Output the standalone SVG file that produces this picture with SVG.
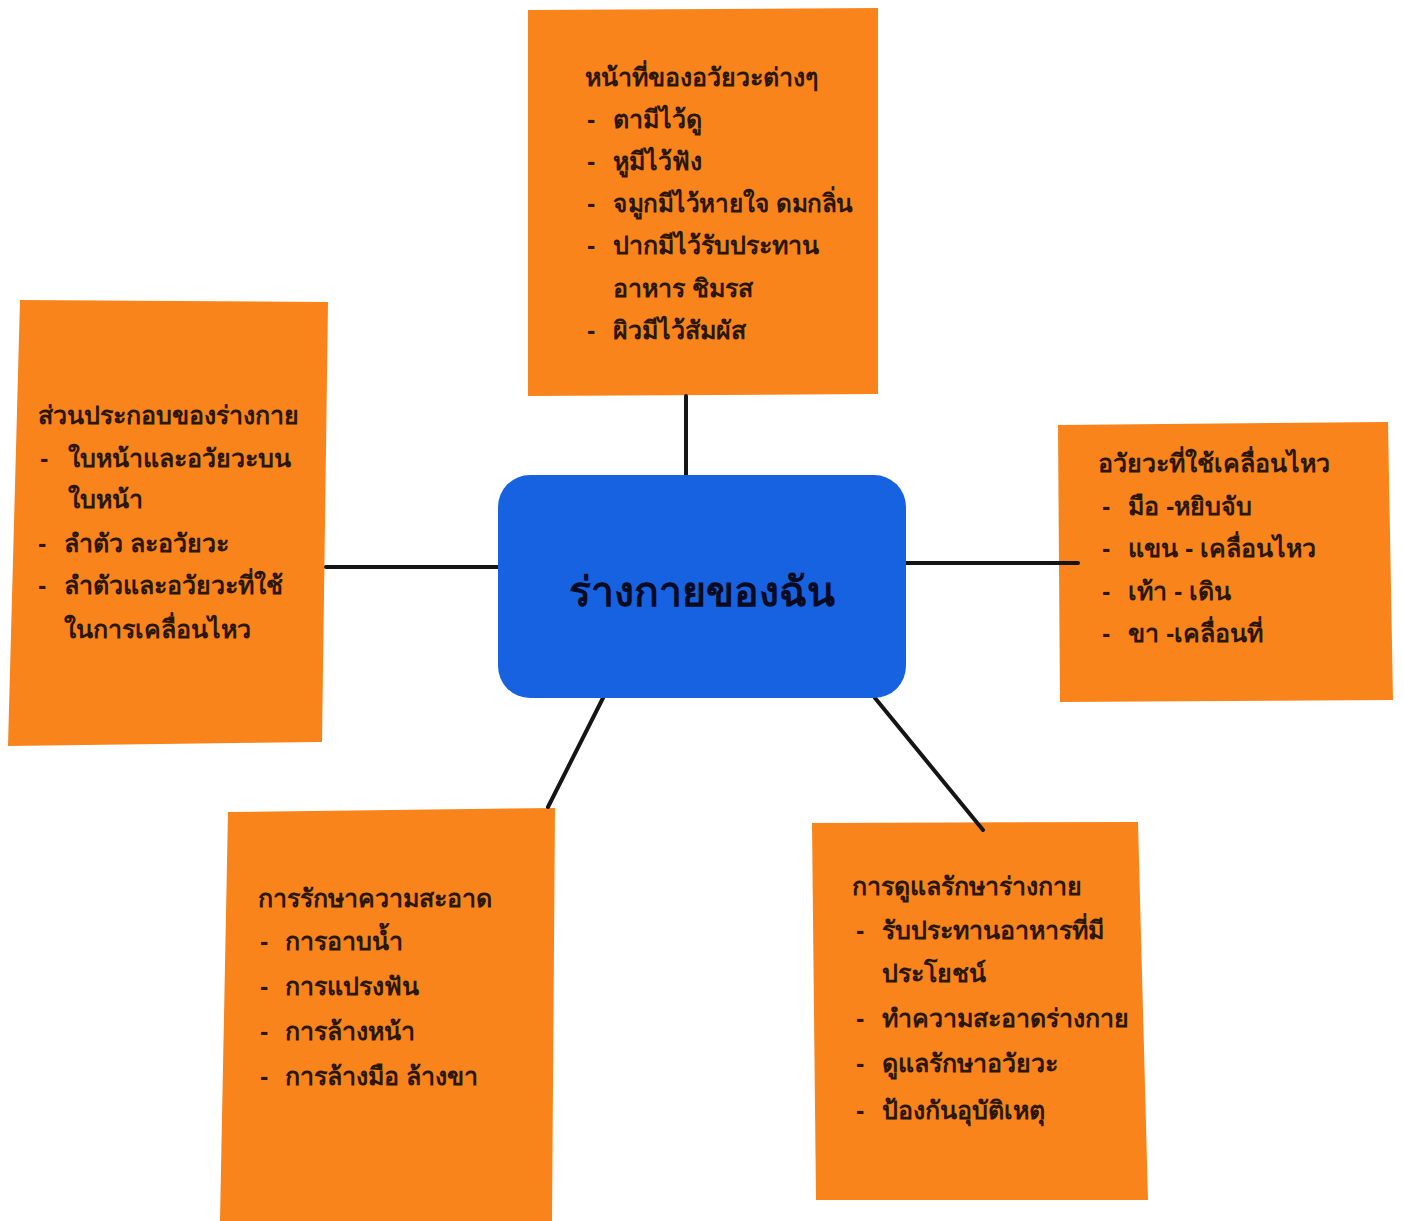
<svg xmlns="http://www.w3.org/2000/svg" width="1403" height="1221" viewBox="0 0 1403 1221">
<style>
.box{fill:#f8841b;}
.hub{fill:#1662e0;}
.t{font-family:"Liberation Sans","Noto Sans",sans-serif;font-size:25px;font-weight:bold;fill:#2a1708;}
.h{font-family:"Liberation Sans","Noto Sans",sans-serif;font-size:41px;font-weight:bold;fill:#0a0a20;}
.c{stroke:#151515;stroke-width:4;fill:none;stroke-linecap:round;}
</style>
<rect width="1403" height="1221" fill="#ffffff"/>
<g id="top">
<polygon class="box" points="528,10 878,8 878,394 528,396"/>
<text class="t" x="585" y="86">หน้าที่ของอวัยวะต่างๆ</text>
<text class="t" x="587" y="128">-</text><text class="t" x="613" y="128">ตามีไว้ดู</text>
<text class="t" x="587" y="170">-</text><text class="t" x="613" y="170">หูมีไว้ฟัง</text>
<text class="t" x="587" y="212">-</text><text class="t" x="613" y="212" textLength="240" lengthAdjust="spacingAndGlyphs">จมูกมีไว้หายใจ ดมกลิ่น</text>
<text class="t" x="587" y="254">-</text><text class="t" x="613" y="254">ปากมีไว้รับประทาน</text>
<text class="t" x="613" y="297">อาหาร ชิมรส</text>
<text class="t" x="587" y="339">-</text><text class="t" x="613" y="339">ผิวมีไว้สัมผัส</text>
</g>
<g id="left">
<polygon class="box" points="20,300 328,302 322,742 8,746"/>
<text class="t" x="38" y="424">ส่วนประกอบของร่างกาย</text>
<text class="t" x="40" y="467">-</text><text class="t" x="68" y="467">ใบหน้าและอวัยวะบน</text>
<text class="t" x="68" y="508">ใบหน้า</text>
<text class="t" x="38" y="552">-</text><text class="t" x="64" y="552">ลำตัว ละอวัยวะ</text>
<text class="t" x="38" y="594">-</text><text class="t" x="64" y="594">ลำตัวและอวัยวะที่ใช้</text>
<text class="t" x="64" y="638">ในการเคลื่อนไหว</text>
</g>
<g id="right">
<polygon class="box" points="1058,425 1388,422 1393,700 1060,702"/>
<text class="t" x="1098" y="472">อวัยวะที่ใช้เคลื่อนไหว</text>
<text class="t" x="1102" y="515">-</text><text class="t" x="1128" y="515">มือ -หยิบจับ</text>
<text class="t" x="1102" y="557">-</text><text class="t" x="1128" y="557">แขน - เคลื่อนไหว</text>
<text class="t" x="1102" y="600">-</text><text class="t" x="1128" y="600">เท้า - เดิน</text>
<text class="t" x="1102" y="642">-</text><text class="t" x="1128" y="642">ขา -เคลื่อนที่</text>
</g>
<g id="bottom-left">
<polygon class="box" points="228,812 555,808 552,1221 220,1221"/>
<text class="t" x="258" y="907">การรักษาความสะอาด</text>
<text class="t" x="260" y="950">-</text><text class="t" x="285" y="950">การอาบน้ำ</text>
<text class="t" x="260" y="995">-</text><text class="t" x="285" y="995">การแปรงฟัน</text>
<text class="t" x="260" y="1040">-</text><text class="t" x="285" y="1040">การล้างหน้า</text>
<text class="t" x="260" y="1085">-</text><text class="t" x="285" y="1085">การล้างมือ ล้างขา</text>
</g>
<g id="bottom-right">
<polygon class="box" points="812,823 1138,822 1148,1200 816,1200"/>
<text class="t" x="852" y="895">การดูแลรักษาร่างกาย</text>
<text class="t" x="856" y="939">-</text><text class="t" x="882" y="939">รับประทานอาหารที่มี</text>
<text class="t" x="882" y="982">ประโยชน์</text>
<text class="t" x="856" y="1027">-</text><text class="t" x="882" y="1027">ทำความสะอาดร่างกาย</text>
<text class="t" x="856" y="1072">-</text><text class="t" x="882" y="1072">ดูแลรักษาอวัยวะ</text>
<text class="t" x="856" y="1119">-</text><text class="t" x="882" y="1119">ป้องกันอุบัติเหตุ</text>
</g>
<g id="connectors">
<line class="c" x1="686" y1="396" x2="686" y2="476"/>
<line class="c" x1="326" y1="567" x2="499" y2="567"/>
<line class="c" x1="906" y1="563" x2="1078" y2="563"/>
<line class="c" x1="605" y1="694" x2="548" y2="807"/>
<line class="c" x1="875" y1="698" x2="983" y2="830"/>
</g>
<g id="center">
<rect class="hub" x="498" y="475" width="408" height="223" rx="32" ry="32"/>
<text class="h" x="702" y="606" text-anchor="middle">ร่างกายของฉัน</text>
</g>
</svg>
